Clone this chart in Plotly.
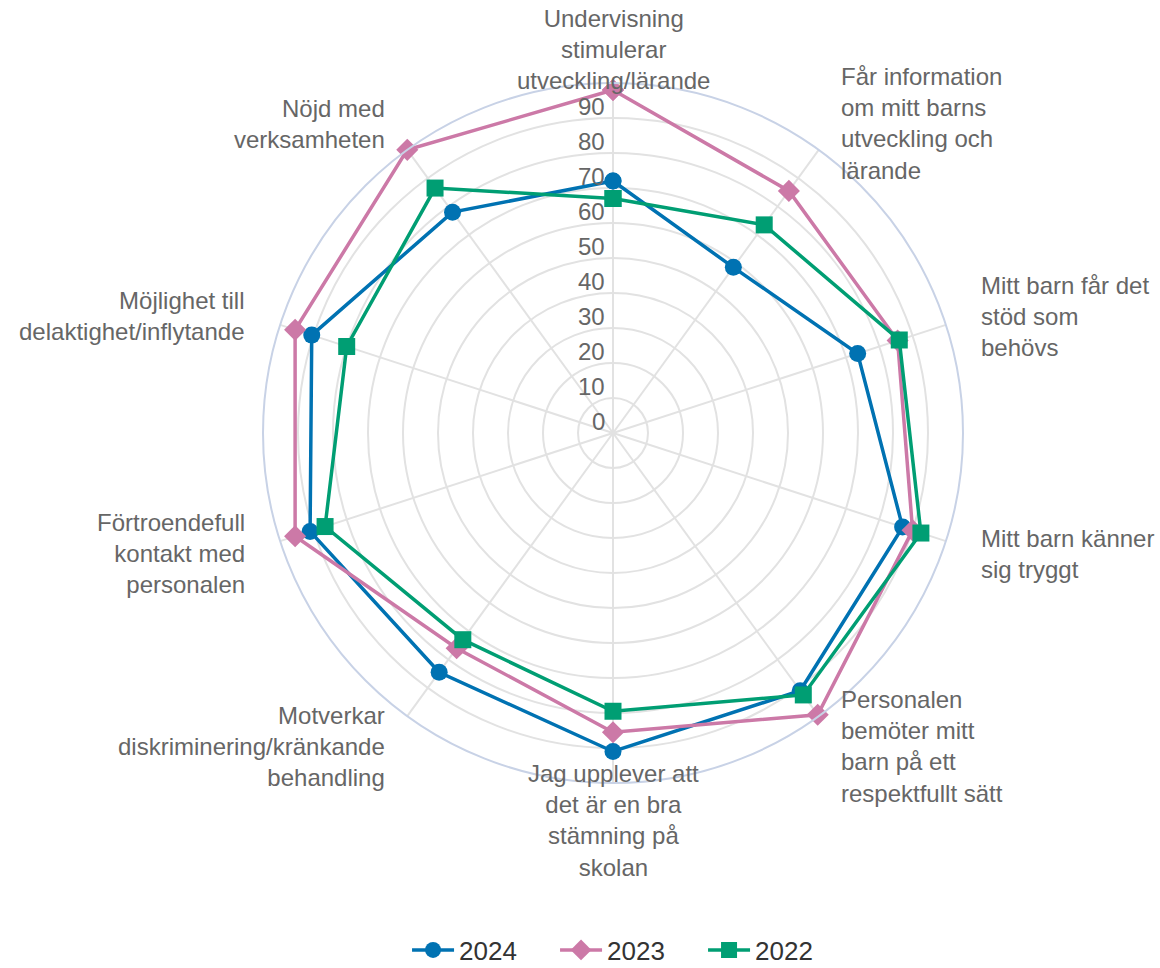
import math
import plotly.graph_objects as go

categories = [
    "Undervisning<br>stimulerar<br>utveckling/lärande",
    "Får information<br>om mitt barns<br>utveckling och<br>lärande",
    "Mitt barn får det<br>stöd som<br>behövs",
    "Mitt barn känner<br>sig tryggt",
    "Personalen<br>bemöter mitt<br>barn på ett<br>respektfullt sätt",
    "Jag upplever att<br>det är en bra<br>stämning på<br>skolan",
    "Motverkar<br>diskriminering/kränkande<br>behandling",
    "Förtroendefull<br>kontakt med<br>personalen",
    "Möjlighet till<br>delaktighet/inflytande",
    "Nöjd med<br>verksamheten",
]

values_2024 = [72, 58.5, 73.5, 87, 91, 91, 84.5, 91, 90.5, 78]
values_2023 = [98, 85.5, 85.5, 90, 99.5, 85.5, 76, 95.5, 95.5, 100]
values_2022 = [67, 73.5, 86, 92.5, 92.5, 79.5, 73, 86.5, 80, 86.5]

radial_ticks = [0, 10, 20, 30, 40, 50, 60, 70, 80, 90]
radial_max = 100

series = [
    ("2024", values_2024, "#0072b2", "circle"),
    ("2023", values_2023, "#cc79a7", "diamond"),
    ("2022", values_2022, "#009e73", "square"),
]

font_family = "Liberation Sans, Arial, sans-serif"
label_color = "#666666"

W, H = 1160, 968
ML, MR, MT, MB = 263, 197, 83, 185
plot_size = W - ML - MR  # 700 (square polar area)

fig = go.Figure()
for name, vals, color, symbol in series:
    fig.add_trace(go.Scatterpolar(
        r=vals + vals[:1],
        theta=categories + categories[:1],
        name=name,
        mode="lines+markers",
        line=dict(color=color, width=3.5),
        marker=dict(color=color, symbol=symbol, size=17),
    ))

# category labels placed around the outer ring
n = len(categories)
label_dist = 385.0 / plot_size
for i, label in enumerate(categories):
    th = math.radians(i * 360.0 / n)
    s, c = math.sin(th), math.cos(th)
    if abs(s) < 1e-6:
        anchor = "center"
    elif s > 0:
        anchor = "left"
    else:
        anchor = "right"
    fig.add_annotation(
        x=0.5 + label_dist * s,
        y=0.5 + label_dist * c - 2.0 / plot_size,
        xref="paper", yref="paper",
        text=label, showarrow=False,
        xanchor=anchor, yanchor="middle", align=anchor,
        font=dict(family=font_family, size=24, color=label_color),
    )

# radial value labels, sitting just above each grid ring, left of the top spoke
for v in radial_ticks:
    fig.add_annotation(
        x=0.5 - 6.0 / plot_size,
        y=0.5 + 0.5 * v / radial_max + 12.0 / plot_size,
        xref="paper", yref="paper",
        text=str(v), showarrow=False,
        xanchor="right", yanchor="middle",
        font=dict(family=font_family, size=24, color=label_color),
    )

fig.update_layout(
    width=W,
    height=H,
    paper_bgcolor="white",
    plot_bgcolor="white",
    font=dict(family=font_family, color=label_color, size=24),
    margin=dict(l=ML, r=MR, t=MT, b=MB),
    polar=dict(
        bgcolor="white",
        domain=dict(x=[0, 1], y=[0, 1]),
        angularaxis=dict(
            direction="clockwise",
            rotation=90,
            showline=True,
            linecolor="#c8d2e6",
            linewidth=2,
            gridcolor="#e2e2e2",
            gridwidth=2,
            ticks="",
            showticklabels=False,
        ),
        radialaxis=dict(
            range=[0, radial_max],
            tickvals=radial_ticks,
            angle=90,
            showline=False,
            gridcolor="#e2e2e2",
            gridwidth=2,
            ticks="",
            showticklabels=False,
        ),
    ),
    legend=dict(
        orientation="h",
        xref="container",
        x=0.3509,
        xanchor="left",
        yref="container",
        y=0.0186,
        yanchor="middle",
        itemwidth=42,
        entrywidth=91,
        entrywidthmode="pixels",
        font=dict(size=26, color="#333333"),
    ),
)

fig.write_html(
    "out.html",
    config={"displayModeBar": False},
    post_script="document.body.style.margin='0';document.body.style.overflow='hidden';",
)
